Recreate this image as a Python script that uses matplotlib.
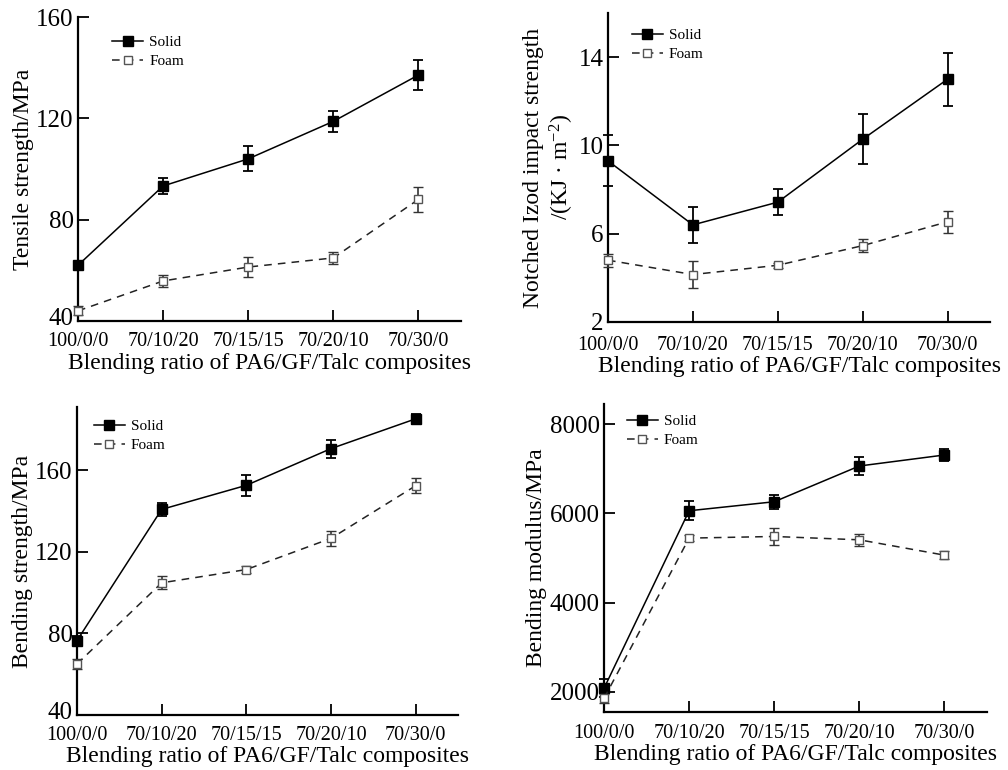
import matplotlib
matplotlib.use('Agg')
import matplotlib.pyplot as plt
from matplotlib.lines import Line2D
from matplotlib.transforms import ScaledTranslation

plt.rcParams['font.family'] = ['Liberation Serif', 'DejaVu Serif']
plt.rcParams['mathtext.fontset'] = 'custom'
plt.rcParams['mathtext.rm'] = 'Liberation Serif'
plt.rcParams['mathtext.it'] = 'Liberation Serif'

# Datos
ratios = ['100/0/0', '70/10/20', '70/15/15', '70/20/10', '70/30/0']

tensile_solid = [62, 93.3, 104, 118.8, 137.1]
tensile_solid_err = [1.2, 3, 4.9, 4.2, 6]
tensile_foam = [44, 55.8, 61.3, 64.9, 88]
tensile_foam_err = [1.8, 2.2, 4.1, 2.3, 5]

impact_solid = [9.3, 6.4, 7.43, 10.28, 13.0]
impact_solid_err = [1.15, 0.8, 0.6, 1.13, 1.2]
impact_foam = [4.8, 4.15, 4.57, 5.46, 6.54]
impact_foam_err = [0.3, 0.63, 0.12, 0.3, 0.5]

bstrength_solid = [76.5, 140.8, 152.6, 170.6, 185.2]
bstrength_solid_err = [2, 3.3, 5.2, 4.4, 2.6]
bstrength_foam = [65, 104.8, 111.3, 126.6, 152.4]
bstrength_foam_err = [2.5, 3.2, 1.7, 3.7, 3.6]

bmodulus_solid = [2075, 6060, 6262, 7064, 7311]
bmodulus_solid_err = [200, 215, 160, 195, 130]
bmodulus_foam = [1850, 5446, 5483, 5408, 5064]
bmodulus_foam_err = [110, 60, 195, 130, 85]

W, H = 1008, 770
fig = plt.figure(figsize=(W / 100, H / 100), dpi=100)

FOAM_DASH = (0, (5, 4))


def make_axes(left, right, top, bottom):
    return fig.add_axes([left / W, 1 - bottom / H, (right - left) / W, (bottom - top) / H])


def panel(ax, solid, solid_err, foam, foam_err, ylim, yticks, ylabel,
          xpad, xlabelpad, leg_xy, lift_first=0):
    x = list(range(len(ratios)))
    ax.errorbar(x, solid, yerr=solid_err, color='black', lw=1.1, marker='s', ms=7,
                mfc='black', mec='black', capsize=3.5, elinewidth=1.3, capthick=1.3,
                clip_on=False, zorder=3)
    ax.errorbar(x, foam, yerr=foam_err, color='#222222', lw=1.1, ls=FOAM_DASH, marker='s', ms=6,
                mfc='white', mec='#555555', mew=1, ecolor='#333333', capsize=3.5,
                elinewidth=1.2, capthick=1.2, clip_on=False, zorder=3)
    ax.set_xlim(0, 4.5)
    ax.set_ylim(*ylim)
    ax.set_xticks(x)
    ax.set_xticklabels(ratios, fontsize=14.5)
    ax.set_yticks(yticks)
    ax.tick_params(axis='y', labelsize=18, direction='in', length=8, width=1.3, pad=3)
    ax.tick_params(axis='x', direction='in', length=8, width=1.3, pad=xpad)
    if lift_first:
        # la etiqueta inferior del eje y queda un poco por encima del eje x
        lbl = ax.yaxis.get_major_ticks()[0].label1
        lbl.set_transform(lbl.get_transform() + ScaledTranslation(0, lift_first / 72, fig.dpi_scale_trans))
    for s in ['top', 'right']:
        ax.spines[s].set_visible(False)
    for s in ['left', 'bottom']:
        ax.spines[s].set_linewidth(1.6)
    ax.set_xlabel('Blending ratio of PA6/GF/Talc composites', fontsize=17, labelpad=xlabelpad)
    ax.set_ylabel(ylabel, fontsize=17, labelpad=2)
    handles = [
        Line2D([], [], color='black', lw=1.1, marker='s', ms=7, mfc='black', mec='black'),
        Line2D([], [], color='#222222', lw=1.1, ls=FOAM_DASH, marker='s', ms=6,
               mfc='white', mec='#555555', mew=1),
    ]
    ax.legend(handles, ['Solid', 'Foam'], loc='upper left', bbox_to_anchor=leg_xy,
              frameon=False, fontsize=11, handlelength=2.0, handletextpad=0.4,
              labelspacing=0.35, borderpad=0)


ax1 = make_axes(78, 461, 17, 321)
panel(ax1, tensile_solid, tensile_solid_err, tensile_foam, tensile_foam_err,
      (40, 160), [40, 80, 120, 160], 'Tensile strength/MPa',
      8, 1, (0.07, 0.965), lift_first=3)

ax2 = make_axes(608, 990, 13, 322)
panel(ax2, impact_solid, impact_solid_err, impact_foam, impact_foam_err,
      (2, 16), [2, 6, 10, 14], 'Notched Izod impact strength\n/(KJ · m$^{-2}$)',
      10, 0.5, (0.043, 0.975))

ax3 = make_axes(77, 458, 407, 715)
panel(ax3, bstrength_solid, bstrength_solid_err, bstrength_foam, bstrength_foam_err,
      (40, 191), [40, 80, 120, 160], 'Bending strength/MPa',
      8, 0.5, (0.025, 0.985), lift_first=3)

ax4 = make_axes(604, 987, 404, 712)
panel(ax4, bmodulus_solid, bmodulus_solid_err, bmodulus_foam, bmodulus_foam_err,
      (1545, 8455), [2000, 4000, 6000, 8000], 'Bending modulus/MPa',
      9, 0.3, (0.04, 0.99))

fig.savefig('out.png', dpi=100)
